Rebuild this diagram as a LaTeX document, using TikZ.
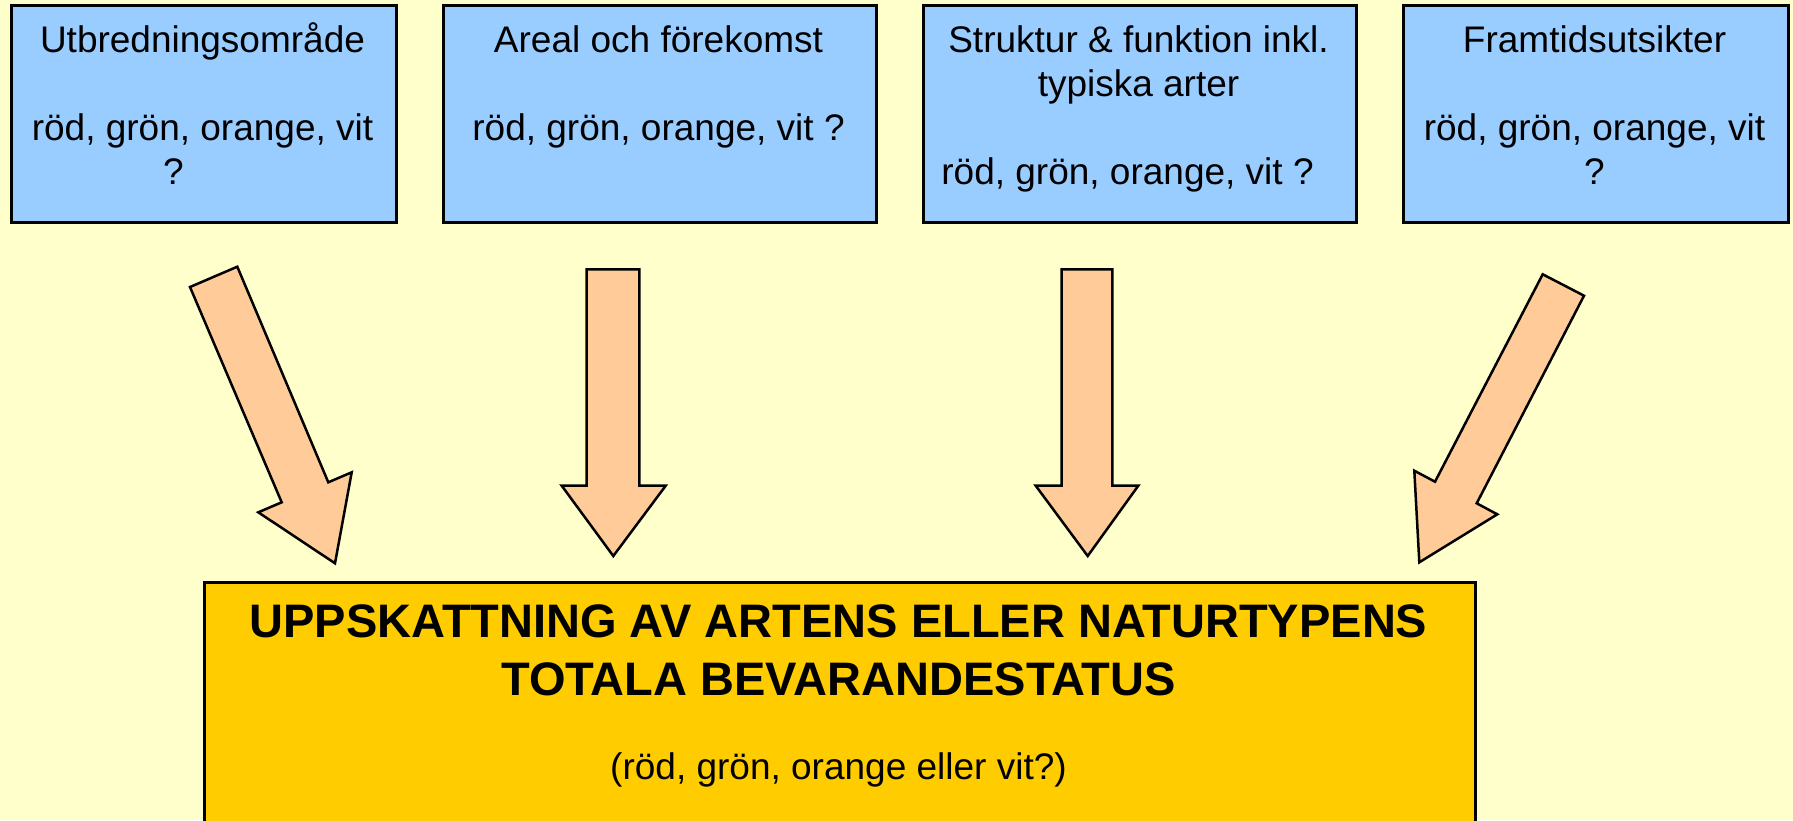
\documentclass[tikz,border=0pt]{standalone}
\usepackage{fontspec}
\setmainfont{Liberation Sans}
\definecolor{bgyellow}{HTML}{FFFFCC}
\definecolor{boxblue}{HTML}{99CCFF}
\definecolor{arroworange}{HTML}{FFCC99}
\definecolor{gold}{HTML}{FFCC00}
\begin{document}
\begin{tikzpicture}[x=1pt,y=-1pt,
  topbox/.style={draw=black, line width=2.5pt, fill=boxblue, minimum height=217pt, inner sep=0pt, anchor=north west},
  toptext/.style={font=\fontsize{37}{44}\selectfont, align=center, inner sep=0pt, anchor=base},
  blockarrow/.style={draw=black, line width=2.5pt, fill=arroworange, line join=miter},
  statusbox/.style={draw=black, line width=2.5pt, fill=gold, inner sep=0pt, anchor=north west}]
\useasboundingbox (0,0) rectangle (1793,820);
\clip (0,0) rectangle (1793,820);
\fill[bgyellow] (0,0) rectangle (1793,820);

% top boxes
\node[topbox, minimum width=385pt] (b1) at (10,4) {};
\node[topbox, minimum width=433pt] (b2) at (442,4) {};
\node[topbox, minimum width=433pt] (b3) at (922,4) {};
\node[topbox, minimum width=385pt] (b4) at (1402,4) {};

% texts (base anchor = baseline of the last line)
\node[toptext] (t1) at (202.5,184) {Utbredningsområde\\[44pt]röd, grön, orange, vit\\?\hspace*{58pt}};
\node[toptext] (t2) at (658.5,140) {Areal och förekomst\\[44pt]röd, grön, orange, vit ?};
\node[toptext] (t3) at (1138.5,184) {Struktur \& funktion inkl.\\typiska arter\\[44pt]röd, grön, orange, vit ?\hspace*{22pt}};
\node[toptext] (t4) at (1594.5,184) {Framtidsutsikter\\[44pt]röd, grön, orange, vit\\?};

% block arrows
\draw[blockarrow] (190,287) -- (237.3,266.7) -- (328.3,482.3) -- (351.7,472.3) -- (335,563.3) -- (258.3,512.3) -- (281.7,502.3) -- cycle;
\draw[blockarrow] (586.7,269.3) -- (639.3,269.3) -- (639.3,485.7) -- (665.7,485.7) -- (613.3,556) -- (561.7,485.7) -- (586.7,485.7) -- cycle;
\draw[blockarrow] (1061.7,269.3) -- (1112.3,269.3) -- (1112.3,485.7) -- (1138.3,485.7) -- (1087.7,556) -- (1035.7,485.7) -- (1061.7,485.7) -- cycle;
\draw[blockarrow] (1542.7,274.3) -- (1584,295.7) -- (1476.7,503.3) -- (1497.3,514.3) -- (1419.3,562.3) -- (1414.3,470.7) -- (1435,481.7) -- cycle;

% status box
\node[statusbox, minimum width=1271pt, minimum height=260pt] (st) at (203,581) {};
\node[font=\bfseries\fontsize{47}{58}\selectfont, align=center, inner sep=0pt, anchor=base] (title) at (838.5,695) {UPPSKATTNING AV ARTENS ELLER NATURTYPENS\\TOTALA BEVARANDESTATUS};
\node[font=\fontsize{37}{44}\selectfont, inner sep=0pt, anchor=base] (sub) at (838.5,779) {(röd, grön, orange eller vit?)};
\end{tikzpicture}
\end{document}
